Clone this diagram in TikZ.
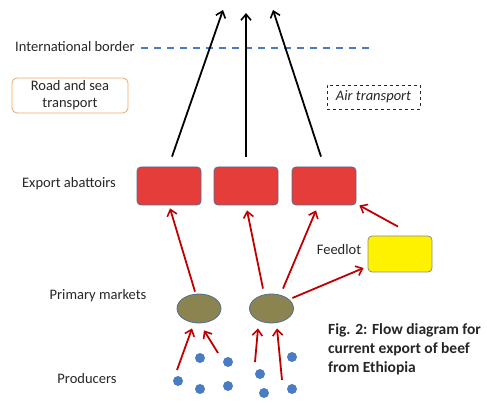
\documentclass[tikz,border=0pt]{standalone}
\usepackage{fontspec}
\setmainfont{Carlito}
\usetikzlibrary{arrows.meta,shapes.geometric,calc}
\definecolor{bordblue}{HTML}{4A7CC4}
\definecolor{abred}{HTML}{E53E3A}
\definecolor{edgeblue}{HTML}{4F6E8F}
\definecolor{arrred}{HTML}{C00000}
\definecolor{olivefill}{HTML}{8C8450}
\definecolor{dotblue}{HTML}{4A7CC4}
\definecolor{orangeb}{HTML}{F4A460}
\begin{document}
\begin{tikzpicture}[x=1pt,y=-1pt,
  lbl/.style={font=\fontsize{14.5}{17}\selectfont, text=black!85},
  abat/.style={draw=edgeblue, fill=abred, rounded corners=4pt, minimum width=64pt, minimum height=38pt, inner sep=0pt, line width=0.8pt},
  mkt/.style={draw=edgeblue, fill=olivefill, ellipse, minimum width=44pt, minimum height=29pt, inner sep=0pt, line width=0.8pt},
  prod/.style={circle, fill=dotblue, minimum size=10pt, inner sep=0pt},
  blackarr/.style={-{Straight Barb[length=6pt,width=10pt,line width=1.6pt]}, line width=1.8pt, black},
  redarr/.style={-{Straight Barb[length=6pt,width=10pt,line width=1.6pt]}, line width=1.8pt, arrred},
]
\useasboundingbox (0,0) rectangle (487,403);
% labels
\node[lbl, anchor=west, inner sep=0pt] (intl) at (15,47) {International border};
\coordinate (bs) at (141,48);
\coordinate (be) at (369,48);
\draw[bordblue, line width=1.6pt, dash pattern=on 7pt off 6pt] (bs) -- (be);
\node[lbl, draw=orangeb, rounded corners=5pt, minimum width=116pt, minimum height=35pt, align=center, inner sep=1pt, line width=0.8pt] (road) at (70,95.5) {Road and sea\\transport};
\node[lbl, draw=black!85, dashed, minimum width=93pt, minimum height=24pt, inner sep=1pt, font=\fontsize{14.5}{17}\selectfont\itshape] (air) at (373.5,97) {Air transport};
\node[lbl] (exportlbl) at (69,184) {Export abattoirs};
\node[lbl] (primlbl) at (98,296) {Primary markets};
\node[lbl] (prodlbl) at (87,379) {Producers};
\node[lbl] (feedlbl) at (339,250) {Feedlot};
% abattoirs
\node[abat] (a1) at (169,186) {};
\node[abat] (a2) at (246,186) {};
\node[abat] (a3) at (324,186) {};
\node[draw=black!45, fill=yellow, rounded corners=4pt, minimum width=64pt, minimum height=36pt, inner sep=0pt, line width=0.8pt] (feed) at (400,254) {};
% markets
\node[mkt] (m1) at (199,308.5) {};
\node[mkt] (m2) at (271.5,308.5) {};
% producers
\node[prod] (p1) at (178,381) {};
\node[prod] (p2) at (200,358) {};
\node[prod] (p3) at (228,362) {};
\node[prod] (p4) at (200,389) {};
\node[prod] (p5) at (228,386) {};
\node[prod] (p6) at (260,374) {};
\node[prod] (p7) at (292,357) {};
\node[prod] (p8) at (264,393) {};
\node[prod] (p9) at (292,389) {};
% black arrows (free ends above the border)
\coordinate (t1) at (223,10);
\coordinate (t2) at (246,13);
\coordinate (t3) at (273,10);
\draw[blackarr] ($(a1.north)+(3,-10)$) -- (t1);
\draw[blackarr] ($(a2.north)+(0,-10)$) -- (t2);
\draw[blackarr] ($(a3.north)+(-3,-10)$) -- (t3);
% red arrows
\draw[redarr] ($(m1.north)+(-4,-2)$) -- ($(a1.south)+(1,3)$);
\draw[redarr] ($(m2.north)+(-8.5,-5)$) -- ($(a2.south)+(1,5)$);
\draw[redarr] ($(m2.north)+(11.5,-5)$) -- ($(a3.south)+(-8,5)$);
\draw[redarr] ($(m2.east)+(-1.5,-10.5)$) -- ($(feed.west)+(-4,14)$);
\draw[redarr] ($(feed.north)+(-2,-9)$) -- ($(a3.south east)+(3,0)$);
\draw[redarr] ($(p1)+(-1,-11)$) -- ($(m1.south)+(-7,5)$);
\draw[redarr] ($(p3)+(-10,-9)$) -- ($(m1.south)+(5,7)$);
\draw[redarr] ($(p6)+(-5,-12)$) -- ($(m2.south)+(-13.5,5)$);
\draw[redarr] ($(p9)+(-10,-9)$) -- ($(m2.south)+(5.5,5)$);
% caption
\node[anchor=north west, align=left, inner sep=0pt, font=\fontsize{15.5}{19}\selectfont\bfseries, text=black!85] (cap) at (328,323.5) {Fig. 2: Flow diagram for\\current export of beef\\from Ethiopia};
\end{tikzpicture}
\end{document}
